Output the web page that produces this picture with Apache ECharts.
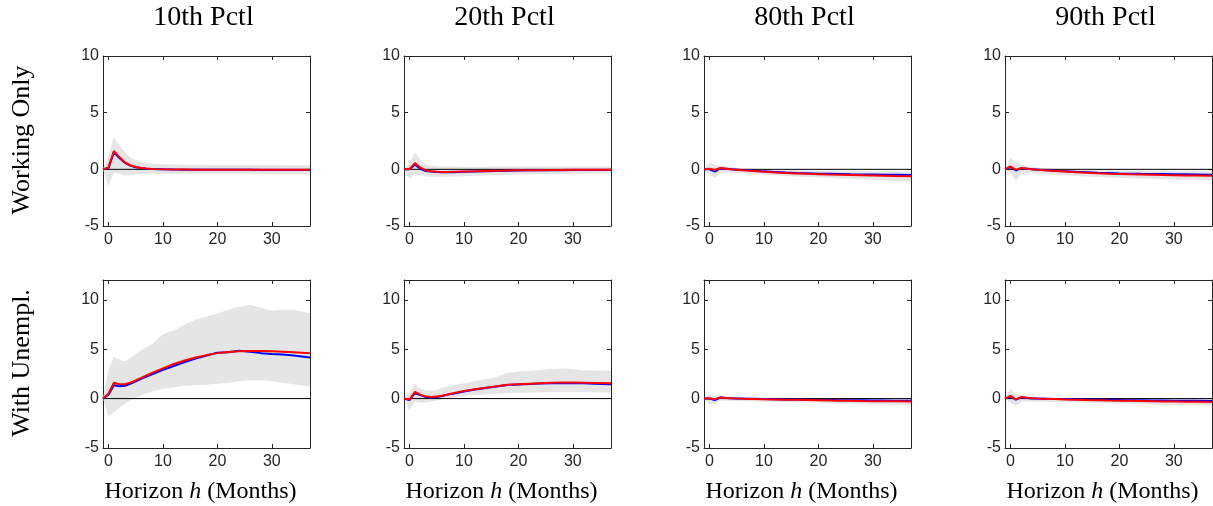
<!DOCTYPE html>
<html>
<head>
<meta charset="utf-8">
<title>Impulse responses by percentile</title>
<script src="https://cdn.jsdelivr.net/npm/echarts@6/dist/echarts.min.js"></script>
<style>
  html, body { margin: 0; padding: 0; background: #ffffff; }
  #chart { width: 1213px; height: 506px; }
</style>
</head>
<body>
<div id="chart"></div>
<script>
// Horizons (months); -1 is the pre-shock point
const H = [-1, 0, 1, 2, 3, 4, 5, 6, 7, 8, 10, 12, 14, 16, 18, 20, 22, 24, 26, 28, 30, 32, 34, 37];

const COL_TITLES = ['10th Pctl', '20th Pctl', '80th Pctl', '90th Pctl'];
const ROW_TITLES = ['Working Only', 'With Unempl.'];
const X_TICKS = [0, 10, 20, 30];
const Y_TICKS = [-5, 0, 5, 10];

// Working only: point estimates (blue, red) and confidence band (lo, hi)
const wo10Blue = [0, 0.12, 1.5, 1.0, 0.58, 0.33, 0.19, 0.11, 0.06, 0.03, 0, -0.02, -0.03, -0.03, -0.04, -0.04, -0.04, -0.04, -0.04, -0.05, -0.05, -0.05, -0.05, -0.05];
const wo10Red  = [0, 0.15, 1.62, 1.08, 0.62, 0.36, 0.21, 0.12, 0.07, 0.04, 0.01, -0.01, -0.02, -0.03, -0.03, -0.03, -0.03, -0.04, -0.04, -0.04, -0.04, -0.04, -0.04, -0.04];
const wo10Hi   = [0, 1.2, 2.8, 2.1, 1.5, 1.05, 0.82, 0.66, 0.56, 0.5, 0.45, 0.42, 0.4, 0.4, 0.39, 0.39, 0.38, 0.38, 0.38, 0.38, 0.38, 0.37, 0.37, 0.36];
const wo10Lo   = [0, -1.5, -0.3, -0.4, -0.55, -0.5, -0.46, -0.43, -0.41, -0.4, -0.39, -0.38, -0.38, -0.38, -0.38, -0.39, -0.39, -0.4, -0.4, -0.4, -0.41, -0.41, -0.42, -0.42];

const wo20Blue = [0, 0.0, 0.4, 0.05, -0.15, -0.2, -0.24, -0.26, -0.26, -0.25, -0.22, -0.19, -0.16, -0.14, -0.12, -0.1, -0.09, -0.08, -0.07, -0.07, -0.06, -0.06, -0.05, -0.05];
const wo20Red  = [0, 0.02, 0.55, 0.15, -0.1, -0.17, -0.21, -0.23, -0.23, -0.22, -0.2, -0.18, -0.15, -0.13, -0.11, -0.09, -0.08, -0.07, -0.06, -0.05, -0.04, -0.04, -0.03, -0.03];
const wo20Hi   = [0, 0.5, 1.5, 0.85, 0.45, 0.32, 0.27, 0.25, 0.25, 0.24, 0.23, 0.23, 0.23, 0.24, 0.24, 0.25, 0.25, 0.26, 0.26, 0.26, 0.26, 0.26, 0.26, 0.26];
const wo20Lo   = [0, -0.85, -0.4, -0.5, -0.6, -0.65, -0.66, -0.66, -0.65, -0.64, -0.6, -0.57, -0.54, -0.51, -0.48, -0.46, -0.44, -0.42, -0.41, -0.4, -0.39, -0.38, -0.37, -0.36];

const wo80Blue = [0, 0, -0.2, 0.1, 0.05, 0.0, -0.03, -0.06, -0.09, -0.12, -0.18, -0.23, -0.28, -0.32, -0.35, -0.38, -0.4, -0.42, -0.44, -0.45, -0.46, -0.47, -0.48, -0.5];
const wo80Red  = [0, 0.05, -0.05, 0.12, 0.06, 0.0, -0.04, -0.08, -0.11, -0.14, -0.21, -0.27, -0.32, -0.36, -0.4, -0.43, -0.46, -0.48, -0.5, -0.52, -0.54, -0.56, -0.58, -0.6];
const wo80Hi   = [0, 0.6, 0.4, 0.3, 0.25, 0.2, 0.15, 0.1, 0.07, 0.05, 0.0, -0.03, -0.06, -0.08, -0.1, -0.11, -0.12, -0.13, -0.14, -0.15, -0.16, -0.17, -0.18, -0.2];
const wo80Lo   = [0, -0.45, -0.75, -0.3, -0.28, -0.3, -0.32, -0.35, -0.38, -0.41, -0.47, -0.53, -0.58, -0.63, -0.67, -0.71, -0.75, -0.8, -0.84, -0.88, -0.92, -0.96, -1.0, -1.1];

const wo90Blue = [0, 0.2, -0.1, 0.1, 0.05, 0.0, -0.03, -0.06, -0.09, -0.12, -0.17, -0.22, -0.26, -0.3, -0.33, -0.36, -0.38, -0.4, -0.41, -0.42, -0.43, -0.44, -0.45, -0.47];
const wo90Red  = [0, 0.25, -0.05, 0.12, 0.06, 0.0, -0.04, -0.08, -0.11, -0.14, -0.2, -0.26, -0.3, -0.34, -0.38, -0.41, -0.44, -0.46, -0.48, -0.5, -0.52, -0.54, -0.55, -0.57];
const wo90Hi   = [0, 1.0, 0.6, 0.4, 0.3, 0.22, 0.16, 0.12, 0.09, 0.06, 0.02, -0.02, -0.05, -0.07, -0.09, -0.1, -0.11, -0.12, -0.13, -0.14, -0.15, -0.16, -0.17, -0.18];
const wo90Lo   = [0, -0.3, -1.0, -0.4, -0.35, -0.35, -0.37, -0.4, -0.43, -0.46, -0.52, -0.58, -0.63, -0.67, -0.71, -0.75, -0.78, -0.81, -0.84, -0.87, -0.9, -0.92, -0.94, -0.97];

// With unemployment
const wu10Blue = [0, 0.4, 1.35, 1.25, 1.3, 1.5, 1.75, 2.0, 2.22, 2.45, 2.9, 3.3, 3.7, 4.05, 4.35, 4.65, 4.7, 4.85, 4.75, 4.6, 4.5, 4.45, 4.35, 4.15];
const wu10Red  = [0, 0.5, 1.6, 1.45, 1.45, 1.6, 1.85, 2.1, 2.35, 2.6, 3.05, 3.5, 3.85, 4.15, 4.4, 4.6, 4.72, 4.8, 4.82, 4.82, 4.8, 4.75, 4.7, 4.6];
const wu10Hi   = [0, 2.9, 4.2, 3.95, 3.75, 4.1, 4.5, 4.9, 5.2, 5.5, 6.5, 6.9, 7.5, 8.0, 8.3, 8.6, 9.0, 9.3, 9.5, 9.2, 8.9, 9.0, 9.0, 8.6];
const wu10Lo   = [0, -1.8, -1.4, -0.9, -0.55, -0.2, 0.1, 0.35, 0.55, 0.7, 1.0, 1.15, 1.3, 1.35, 1.4, 1.5, 1.6, 1.75, 1.85, 1.85, 1.75, 1.6, 1.45, 1.2];

const wu20Blue = [0, -0.15, 0.55, 0.35, 0.15, 0.12, 0.17, 0.27, 0.4, 0.5, 0.72, 0.92, 1.08, 1.22, 1.37, 1.43, 1.48, 1.53, 1.56, 1.57, 1.56, 1.54, 1.51, 1.45];
const wu20Red  = [0, -0.1, 0.68, 0.4, 0.2, 0.15, 0.2, 0.3, 0.42, 0.55, 0.76, 0.95, 1.1, 1.25, 1.4, 1.45, 1.5, 1.55, 1.6, 1.62, 1.62, 1.6, 1.58, 1.55];
const wu20Hi   = [0, 0.6, 1.5, 1.0, 0.85, 0.8, 0.85, 1.1, 1.25, 1.35, 1.55, 1.75, 1.95, 2.2, 2.6, 2.75, 2.8, 2.9, 3.0, 3.05, 3.0, 2.85, 2.85, 2.8];
const wu20Lo   = [0, -1.2, -0.3, -0.4, -0.4, -0.3, -0.2, -0.05, 0.03, 0.1, 0.25, 0.35, 0.45, 0.5, 0.55, 0.6, 0.6, 0.65, 0.65, 0.7, 0.7, 0.65, 0.65, 0.6];

const wu80Blue = [0, 0, -0.15, 0.1, 0.06, 0.03, 0.01, 0.0, -0.01, -0.02, -0.04, -0.06, -0.08, -0.1, -0.12, -0.14, -0.15, -0.16, -0.17, -0.18, -0.19, -0.2, -0.21, -0.22];
const wu80Red  = [0, 0.02, -0.05, 0.12, 0.07, 0.03, 0.0, -0.02, -0.03, -0.04, -0.07, -0.09, -0.11, -0.13, -0.15, -0.17, -0.19, -0.21, -0.23, -0.25, -0.26, -0.27, -0.28, -0.3];
const wu80Hi   = [0, 0.45, 0.2, 0.28, 0.22, 0.18, 0.16, 0.14, 0.13, 0.12, 0.1, 0.09, 0.08, 0.07, 0.06, 0.05, 0.04, 0.03, 0.02, 0.01, 0.0, -0.01, -0.02, -0.03];
const wu80Lo   = [0, -0.55, -0.55, -0.2, -0.22, -0.24, -0.26, -0.27, -0.28, -0.29, -0.31, -0.33, -0.35, -0.37, -0.4, -0.43, -0.46, -0.49, -0.52, -0.55, -0.58, -0.6, -0.62, -0.65];

const wu90Blue = [0, 0.2, -0.1, 0.12, 0.06, 0.02, 0.0, -0.01, -0.02, -0.03, -0.05, -0.07, -0.09, -0.11, -0.13, -0.15, -0.17, -0.18, -0.19, -0.2, -0.21, -0.22, -0.23, -0.25];
const wu90Red  = [0, 0.28, -0.08, 0.15, 0.08, 0.03, 0.0, -0.02, -0.04, -0.05, -0.08, -0.11, -0.14, -0.16, -0.19, -0.21, -0.23, -0.25, -0.27, -0.29, -0.3, -0.32, -0.33, -0.35];
const wu90Hi   = [0, 1.0, 0.5, 0.3, 0.22, 0.15, 0.12, 0.1, 0.08, 0.07, 0.05, 0.03, 0.02, 0.0, -0.01, -0.02, -0.03, -0.03, -0.04, -0.04, -0.05, -0.05, -0.05, -0.06];
const wu90Lo   = [0, -0.4, -0.75, -0.3, -0.3, -0.3, -0.31, -0.32, -0.33, -0.34, -0.36, -0.38, -0.41, -0.44, -0.47, -0.5, -0.53, -0.56, -0.59, -0.62, -0.64, -0.66, -0.68, -0.7];

const PANELS = [
  { blue: wo10Blue, red: wo10Red, lo: wo10Lo, hi: wo10Hi },
  { blue: wo20Blue, red: wo20Red, lo: wo20Lo, hi: wo20Hi },
  { blue: wo80Blue, red: wo80Red, lo: wo80Lo, hi: wo80Hi },
  { blue: wo90Blue, red: wo90Red, lo: wo90Lo, hi: wo90Hi },
  { blue: wu10Blue, red: wu10Red, lo: wu10Lo, hi: wu10Hi },
  { blue: wu20Blue, red: wu20Red, lo: wu20Lo, hi: wu20Hi },
  { blue: wu80Blue, red: wu80Red, lo: wu80Lo, hi: wu80Hi },
  { blue: wu90Blue, red: wu90Red, lo: wu90Lo, hi: wu90Hi }
];

// Layout and styling
const X_MIN = -1, X_MAX = 37;
const ROW_Y = [[-5, 10], [-5, 12]];
const COL_LEFT = [103, 404, 704, 1005];
const GRID_W = 207;
const ROW_TOP = [56, 280];
const ROW_H = [170, 168];
const AXIS_COLOR = '#262626';
const BAND_COLOR = '#e5e5e5';
const SERIF = '"Liberation Serif", "Times New Roman", serif';
const SANS = '"Liberation Sans", Arial, Helvetica, sans-serif';

const grids = [], xAxes = [], yAxes = [], series = [], graphics = [];

const tickStyle = { show: true, inside: true, length: 4, lineStyle: { color: AXIS_COLOR, width: 1 } };
const lineStyleAxis = { show: true, onZero: false, lineStyle: { color: AXIS_COLOR, width: 1 } };

PANELS.forEach((p, idx) => {
  const r = Math.floor(idx / 4), c = idx % 4;
  grids.push({ left: COL_LEFT[c], top: ROW_TOP[r], width: GRID_W, height: ROW_H[r], containLabel: false });

  const xBase = {
    type: 'value', gridIndex: idx, min: X_MIN, max: X_MAX,
    axisLine: lineStyleAxis, splitLine: { show: false },
    axisTick: Object.assign({}, tickStyle, { customValues: X_TICKS })
  };
  xAxes.push(Object.assign({}, xBase, {
    position: 'bottom',
    axisLabel: { customValues: X_TICKS, color: AXIS_COLOR, fontFamily: SANS, fontSize: 16, margin: 6 },
    name: r === 1 ? '{t|Horizon }{i|h}{t| (Months)}' : '',
    nameLocation: 'middle', nameGap: 32,
    nameTextStyle: {
      padding: [0, 12, 0, 0],
      rich: {
        t: { fontFamily: SERIF, fontSize: 24, color: '#000' },
        i: { fontFamily: SERIF, fontSize: 24, fontStyle: 'italic', color: '#000' }
      }
    }
  }));
  xAxes.push(Object.assign({}, xBase, { position: 'top', axisLabel: { show: false } }));

  const yBase = {
    type: 'value', gridIndex: idx, min: ROW_Y[r][0], max: ROW_Y[r][1],
    axisLine: lineStyleAxis, splitLine: { show: false },
    axisTick: Object.assign({}, tickStyle, { customValues: Y_TICKS })
  };
  yAxes.push(Object.assign({}, yBase, {
    position: 'left',
    axisLabel: { customValues: Y_TICKS, color: AXIS_COLOR, fontFamily: SANS, fontSize: 16, margin: 4 }
  }));
  yAxes.push(Object.assign({}, yBase, { position: 'right', axisLabel: { show: false } }));

  const xi = idx * 2, yi = idx * 2;

  // Confidence band as one polygon through the upper then lower bounds
  series.push({
    type: 'custom', xAxisIndex: xi, yAxisIndex: yi, z: 1, silent: true,
    data: H.map((h, i) => [h, p.lo[i], p.hi[i]]),
    encode: { x: 0, y: [1, 2] },
    renderItem: (params, api) => {
      if (params.dataIndex !== 0) return;
      const upper = H.map((h, i) => api.coord([h, p.hi[i]]));
      const lower = H.map((h, i) => api.coord([h, p.lo[i]])).reverse();
      return { type: 'polygon', shape: { points: upper.concat(lower) }, style: { fill: BAND_COLOR } };
    }
  });

  // Zero reference line across the panel
  series.push({
    type: 'line', xAxisIndex: xi, yAxisIndex: yi, z: 2, silent: true,
    data: [[X_MIN, 0], [X_MAX, 0]], showSymbol: false,
    lineStyle: { color: '#000', width: 1 }
  });

  series.push({
    type: 'line', xAxisIndex: xi, yAxisIndex: yi, z: 3,
    data: H.map((h, i) => [h, p.blue[i]]), showSymbol: false,
    lineStyle: { color: '#0000ff', width: 2 }
  });
  series.push({
    type: 'line', xAxisIndex: xi, yAxisIndex: yi, z: 4,
    data: H.map((h, i) => [h, p.red[i]]), showSymbol: false,
    lineStyle: { color: '#ff0000', width: 2 }
  });
});

// Column titles
COL_TITLES.forEach((t, c) => {
  graphics.push({
    type: 'text', x: COL_LEFT[c] + GRID_W / 2 - 3, y: 18,
    style: { text: t, font: '28px ' + SERIF, fill: '#000', align: 'center', verticalAlign: 'middle', textAlign: 'center', textVerticalAlign: 'middle' }
  });
});

// Row titles, rotated
ROW_TITLES.forEach((t, r) => {
  graphics.push({
    type: 'text', x: 22, y: ROW_TOP[r] + ROW_H[r] / 2 - 1, rotation: Math.PI / 2,
    style: { text: t, font: '26px ' + SERIF, fill: '#000', align: 'center', verticalAlign: 'middle', textAlign: 'center', textVerticalAlign: 'middle' }
  });
});

const chart = echarts.init(document.getElementById('chart'), null, { renderer: 'canvas' });
chart.setOption({
  animation: false,
  backgroundColor: '#ffffff',
  grid: grids,
  xAxis: xAxes,
  yAxis: yAxes,
  series: series,
  graphic: graphics
});
</script>
</body>
</html>
